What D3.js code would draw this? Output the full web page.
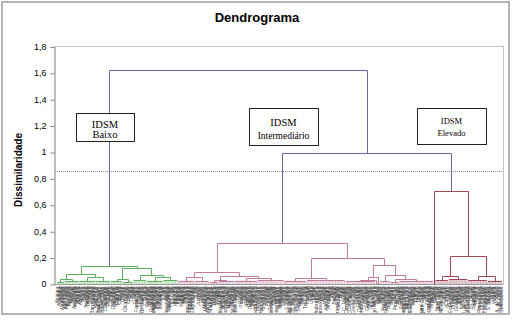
<!DOCTYPE html>
<html><head><meta charset="utf-8">
<script src="https://cdn.jsdelivr.net/npm/d3@7"></script>
<style>body{margin:0;background:#fff}svg{display:block}</style>
</head><body><svg id="c" width="514" height="322"></svg>
<script>
// ---------------- DATA ----------------
const chartTitle = "Dendrograma";
const yTitle = "Dissimilaridade";
const yTicks = [0, 0.2, 0.4, 0.6, 0.8, 1, 1.2, 1.4, 1.6, 1.8];
const yTickLabels = ["0", "0,2", "0,4", "0,6", "0,8", "1", "1,2", "1,4", "1,6", "1,8"];
const truncationLevel = 0.855;
const rootHeight = 1.62;
const upperHeight = 0.99;
const boxTitle = "IDSM";
const clusterNames = ["Baixo", "Intermediário", "Elevado"];

const leafNames = ("Abaiara|Acopiara|Aiuaba|Alcântaras|Altaneira|Alto Santo|Amontada|Antonina|Apuiarés|Aquiraz|Aracati|Aracoiaba|Ararendá|Araripe|Aratuba|Arneiroz|Assaré|Aurora|Baixio|Banabuiú|Barbalha|Barreira|Barro|Barroquinha|Baturité|Beberibe|Bela Cruz|Boa Viagem|Brejo Santo|Camocim|Campos Sales|Canindé|Capistrano|Caridade|Cariré|Caririaçu|Cariús|Carnaubal|Cascavel|Catarina|Catunda|Caucaia|Cedro|Chaval|Choró|Chorozinho|Coreaú|Crateús|Crato|Croatá|Cruz|Ererê|Eusébio|Farias Brito|Forquilha|Fortim|Frecheirinha|G. Sampaio|Graça|Granja|Granjeiro|Groaíras|Guaiúba|Guaraciaba|Guaramiranga|Hidrolândia|Horizonte|Ibaretama|Ibiapina|Ibicuitinga|Icapuí|Icó|Iguatu|Independência|Ipaporanga|Ipaumirim|Ipu|Ipueiras|Iracema|Irauçuba|Itaiçaba|Itaitinga|Itapajé|Itapipoca|Itapiúna|Itarema|Itatira|Jaguaretama|Jaguaribara|Jaguaribe|Jaguaruana|Jardim|Jati|Jijoca|Juazeiro|Jucás|Lavras|Limoeiro|Madalena|Maracanaú|Maranguape|Marco|Martinópole|Massapê|Mauriti|Meruoca|Milagres|Milhã|Miraíma|Missão Velha|Mombaça|M. Tabosa|Morada Nova|Moraújo|Morrinhos|Mucambo|Mulungu|Nova Olinda|Nova Russas|Novo Oriente|Ocara|Orós|Pacajus|Pacatuba|Pacoti|Pacujá|Palhano|Palmácia|Paracuru|Paraipaba|Parambu|Paramoti|Pedra Branca|Penaforte|Pentecoste|Pereiro|Pindoretama|P. Carneiro|P. Ferreira|Poranga|Porteiras|Potengi|Potiretama|Quiterianópolis|Quixadá|Quixelô|Quixeramobim|Quixeré|Redenção|Reriutaba|Russas|Saboeiro|Salitre|Santana|S. Quitéria|São Benedito|São Gonçalo|São Luís|S. Pompeu|Senador Sá|Sobral|Solonópole|Tabuleiro|Tamboril|Tarrafas|Tauá|Tejuçuoca|Tianguá|Trairi|Tururu|Ubajara|Umari|Umirim|Uruburetama|Uruoca|Varjota|Várzea Alegre|Viçosa|Acaraú|Acarape|Alto Alegre|Anajatuba|Arame|Arari|Axixá|Bacabal|Balsas|Barra do Corda|Bequimão|Brejo|Buriti|Cajari|C. Mendes|Cantanhede|Carolina|Carutapera|Caxias|Codó|Coelho Neto|Colinas|Coroatá|Cururupu|Dom Pedro|Esperantinópolis|Estreito|Fortaleza|Grajaú|Guimarães|Humberto|Icatu|Imperatriz|Itapecuru|Lago da Pedra|Loreto|Matinha|Mirador|Monção|Morros|Parnarama|Passagem|Pastos Bons|Penalva|Peri Mirim|Pindaré|Pinheiro|Pio XII|Pirapemas|P. Dutra|Riachão|Rosário|Sambaíba|Santa Helena|Santa Inês|Santa Rita|São Bento|São Domingos|São Mateus|Sucupira|Timbiras|Timon|Tuntum|Turiaçu|Tutóia|Urbano Santos|Vargem Grande|Viana|Vitória|Zé Doca|Água Branca|Alagoinha|Amarante|Angical|Barras|Batalha|Bom Jesus|B. dos Lopes|Campo Maior|C. do Buriti|Castelo|Cocal|Corrente|C. Castro|D. Lobão|Esperantina|Floriano|Fronteiras|Gilbués|Guadalupe|Inhuma|Ipiranga|Itainópolis|Jaicós|J. de Freitas|Luís Correia|Luzilândia|Miguel Alves|M. Gil|Oeiras|Parnaíba|Paulistana|Pedro II|Picos|Pimenteiras|Piracuruca|Piripiri|Regeneração|S. Raimundo|Simões|S. Mendes|Teresina|União|Uruçuí|Valença|Altos|A. de Abreu|A. Lopes|Barro Duro|Beneditinos").split("|");

// tree builders: g(leafCount, groupHeight) = low-level group, m(height, left, right) = merge
function g(n, h) { return { n: n, h: h }; }
function m(h, a, b) { return { h: h, c: [a, b] }; }

const baixoTree = m(0.14,
  m(0.073, m(0.038, g(5, 0.018), g(10, 0.022)), m(0.05, g(11, 0.025), g(10, 0.02))),
  m(0.125, m(0.036, g(8, 0.02), g(7, 0.015)),
           m(0.068, g(9, 0.028), m(0.055, g(11, 0.025), g(10, 0.03)))));

const intermTree = m(0.307,
  m(0.094,
    m(0.05, g(11, 0.025), g(10, 0.02)),
    m(0.06, m(0.03, g(6, 0.015), g(11, 0.02)), m(0.044, g(15, 0.025), g(18, 0.03)))),
  m(0.195,
    m(0.045, g(15, 0.025), g(26, 0.03)),
    m(0.145,
      m(0.05, m(0.03, g(20, 0.02), g(1, 0)), g(2, 0.01)),
      m(0.068, g(7, 0.02), m(0.036, g(6, 0.015), g(23, 0.025))))));

const elevadoTree = m(0.707, g(1, 0),
  m(0.215, m(0.058, g(9, 0.03), g(13, 0.035)), m(0.06, g(13, 0.03), g(10, 0.025))));

// ---------------- STYLE / LAYOUT ----------------
const colTop = "#6666a8", colB = "#5fb05f", colI = "#c07a9c", colE = "#a0485a";
const svg = d3.select("#c");
const N = leafNames.length;
const y = d3.scaleLinear().domain([0, 1.8]).range([284, 46.4]);
const x = d3.scaleLinear().domain([0, N - 1]).range([57.5, 501.5]);
const px = v => Math.round(v) + 0.5;

svg.append("rect").attr("x", 2).attr("y", 2).attr("width", 507).attr("height", 312)
  .attr("fill", "#fff").attr("stroke", "#b4b4b4").attr("stroke-width", 2);

svg.append("text").attr("x", 257).attr("y", 22).attr("text-anchor", "middle")
  .attr("font-family", "Liberation Sans, Arial, sans-serif").attr("font-weight", "bold")
  .attr("font-size", 13).attr("fill", "#000").text(chartTitle);

svg.append("text").attr("transform", "translate(22,170) rotate(-90)").attr("text-anchor", "middle")
  .attr("font-family", "Liberation Sans, Arial, sans-serif").attr("font-weight", "bold")
  .attr("font-size", 10).attr("fill", "#000").text(yTitle);

// frame
svg.append("path").attr("d", `M${px(54)},${px(y(1.8))}H${px(503)}V${px(y(0))}`)
  .attr("fill", "none").attr("stroke", "#c4c4c4");
svg.append("line").attr("x1", 54).attr("x2", 503.5).attr("y1", px(y(0))).attr("y2", px(y(0)))
  .attr("stroke", "#9a9a9a");
// axis
const ax = svg.append("g").attr("transform", `translate(${px(54)},0)`)
  .call(d3.axisLeft(y).tickValues(yTicks).tickFormat((d, i) => yTickLabels[i]).tickSize(4).tickSizeOuter(0).tickPadding(4));
ax.selectAll("path,line").attr("stroke", "#808080");
ax.selectAll("text").attr("font-family", "Liberation Sans, Arial, sans-serif").attr("font-size", 9).attr("fill", "#000");
ax.selectAll(".tick line").attr("transform", "translate(0,0.5)");

// truncation
svg.append("line").attr("x1", 55).attr("x2", 503).attr("y1", px(y(truncationLevel))).attr("y2", px(y(truncationLevel)))
  .attr("stroke", "#8a8a8a").attr("stroke-dasharray", "1,1");

// layout tree
const upper = m(upperHeight, intermTree, elevadoTree);
const root = m(rootHeight, baixoTree, upper);
let idx = 0;
function layout(node) {
  if (node.n !== undefined) {
    node.i0 = idx; node.i1 = idx + node.n - 1; idx += node.n;
    node.x = (x(node.i0) + x(node.i1)) / 2; return;
  }
  node.c.forEach(layout);
  node.x = (node.c[0].x + node.c[1].x) / 2;
}
layout(root);

const linkG = svg.append("g").attr("fill", "none");
function drawNode(node, col) {
  if (node.n !== undefined) {
    if (node.n > 1) {
      const p = d3.path();
      p.moveTo(x(node.i0), px(y(node.h))); p.lineTo(x(node.i1), px(y(node.h)));
      linkG.append("path").attr("d", p.toString()).attr("stroke", col);
      const q = d3.path();
      for (let i = node.i0; i <= node.i1; i++) { q.moveTo(x(i), y(node.h)); q.lineTo(x(i), y(0)); }
      linkG.append("path").attr("d", q.toString()).attr("stroke", col).attr("stroke-width", 0.6).attr("opacity", 0.8);
    }
    return;
  }
  const p = d3.path();
  const yh = px(y(node.h));
  p.moveTo(px(node.c[0].x), yh); p.lineTo(px(node.c[1].x), yh);
  node.c.forEach(ch => { p.moveTo(px(ch.x), yh); p.lineTo(px(ch.x), px(y(ch.h))); });
  linkG.append("path").attr("d", p.toString()).attr("stroke", col);
  node.c.forEach(ch => drawNode(ch, col));
}
// top links (blue)
[root, upper].forEach(node => {
  const p = d3.path(); const yh = px(y(node.h));
  p.moveTo(px(node.c[0].x), yh); p.lineTo(px(node.c[1].x), yh);
  node.c.forEach(ch => { p.moveTo(px(ch.x), yh); p.lineTo(px(ch.x), px(y(ch.h))); });
  linkG.append("path").attr("d", p.toString()).attr("stroke", colTop);
});
drawNode(baixoTree, colB);
drawNode(intermTree, colI);
drawNode(elevadoTree, colE);

// leaf labels
svg.append("clipPath").attr("id", "lc").append("rect").attr("x", 54).attr("y", 285).attr("width", 450).attr("height", 28);
svg.append("g").attr("clip-path", "url(#lc)").selectAll("text").data(leafNames).join("text")
  .attr("transform", (d, i) => `translate(${x(i)},286.5) rotate(-90)`)
  .attr("text-anchor", "end").attr("dy", "0.35em")
  .attr("font-family", "Liberation Sans, Arial, sans-serif").attr("font-size", 5)
  .attr("fill", "#404040").text(d => d);

// annotation boxes
const boxes = [
  { x0: 76, x1: 134, y0: 113, y1: 141, t1: 127.5, t2: 137.5, f1: 10.5, f2: 10.5, name: clusterNames[0] },
  { x0: 249, x1: 318, y0: 108, y1: 145, t1: 126, t2: 139, f1: 10.5, f2: 9.5, name: clusterNames[1] },
  { x0: 417, x1: 486, y0: 108, y1: 144, t1: 124, t2: 135.5, f1: 8.5, f2: 8.5, name: clusterNames[2] }
];
boxes.forEach(b => {
  svg.append("rect").attr("x", b.x0 + 0.5).attr("y", b.y0 + 0.5).attr("width", b.x1 - b.x0).attr("height", b.y1 - b.y0)
    .attr("fill", "#fff").attr("stroke", "#222");
  const cx = (b.x0 + b.x1) / 2;
  svg.append("text").attr("x", cx).attr("y", b.t1).attr("text-anchor", "middle").attr("fill", "#000")
    .attr("font-family", "Liberation Serif, Times New Roman, serif").attr("font-size", b.f1).text(boxTitle);
  svg.append("text").attr("x", cx).attr("y", b.t2).attr("text-anchor", "middle").attr("fill", "#000")
    .attr("font-family", "Liberation Serif, Times New Roman, serif").attr("font-size", b.f2).text(b.name);
});
</script></body></html>
